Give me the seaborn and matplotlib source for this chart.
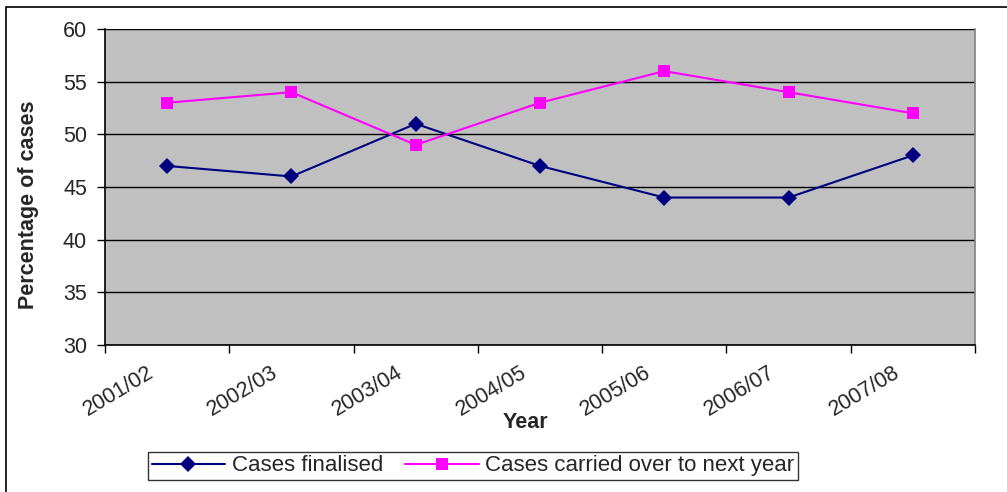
import matplotlib
matplotlib.use("Agg")
import matplotlib.pyplot as plt
import seaborn as sns
import pandas as pd
from matplotlib.patches import Rectangle

years = ["2001/02", "2002/03", "2003/04", "2004/05", "2005/06", "2006/07", "2007/08"]
finalised = [47, 46, 51, 47, 44, 44, 48]
carried_over = [53, 54, 49, 53, 56, 54, 52]
series_names = ["Cases finalised", "Cases carried over to next year"]

sns.set_style("white")
plt.rcParams["font.family"] = ["Liberation Sans", "DejaVu Sans"]

df = pd.DataFrame({
    "Year": years * 2,
    "Value": finalised + carried_over,
    "Series": [series_names[0]] * len(years) + [series_names[1]] * len(years),
})

fig = plt.figure(figsize=(10.07, 4.92), dpi=100)
ax = fig.add_axes([105 / 1007, 1 - 345 / 492, 870 / 1007, 316 / 492])
ax.set_facecolor("#C0C0C0")

palette = {series_names[0]: "#000080", series_names[1]: "#FF00FF"}
markers = {series_names[0]: "D", series_names[1]: "s"}
sns.lineplot(data=df, x="Year", y="Value", hue="Series", style="Series",
             palette=palette, markers=markers, dashes=False, markersize=8.5,
             linewidth=1.5, markeredgewidth=0, ax=ax, sort=False)

ax.set_xlim(-0.5, len(years) - 0.5)
ax.set_ylim(30, 60)
ax.set_yticks(range(30, 61, 5))
ax.yaxis.grid(True, color="black", linewidth=1)
ax.xaxis.grid(False)
ax.set_axisbelow(True)

# rotated category labels hang just left of each category centre;
# tick marks sit on the category boundaries
label_offset = 0.12
ax.set_xticks([i - label_offset for i in range(len(years))])
ax.set_xticklabels(years, rotation=31, ha="right", va="center",
                   rotation_mode="anchor", fontsize=15.5)
ax.tick_params(axis="x", which="major", length=0, pad=19)
ax.set_xticks([i - 0.5 for i in range(len(years) + 1)], minor=True)
ax.tick_params(axis="x", which="minor", length=6, width=1, color="black", direction="out")
ax.tick_params(axis="y", length=6, width=1, color="black", direction="out", labelsize=15.5, pad=7)
ax.tick_params(axis="x", bottom=True, which="both")
ax.tick_params(axis="y", left=True)

for side in ["left", "bottom"]:
    ax.spines[side].set_color("black")
    ax.spines[side].set_linewidth(1.2)
ax.spines["top"].set_visible(False)
ax.spines["right"].set_color("#808080")
ax.spines["right"].set_linewidth(1.2)

ax.set_ylabel("Percentage of cases", fontsize=15.5, fontweight="bold")
ax.yaxis.set_label_coords(-(105 - 39) / 870, (345 - 205) / 316)
ax.set_xlabel("Year", fontsize=15.5, fontweight="bold")
ax.xaxis.set_label_coords((525 - 105) / 870, -(422 - 345) / 316)
ax.xaxis.label.set_va("center")

handles, labels = ax.get_legend_handles_labels()
ax.legend(handles, labels, loc="center", bbox_to_anchor=((473 - 105) / 870, -(466 - 345) / 316),
          ncol=2, frameon=True, fancybox=False, edgecolor="black", fontsize=16,
          handlelength=3.3, handletextpad=0.3, columnspacing=1.0, borderpad=0.15)
leg = ax.get_legend()
leg.get_frame().set_linewidth(1)

# outer chart border
fig.patches.append(Rectangle((6 / 1007, -0.1), 1.2, 1 - 7 / 492 + 0.1, transform=fig.transFigure,
                             fill=False, edgecolor="black", linewidth=1.2))

fig.savefig("out.png", dpi=100)
